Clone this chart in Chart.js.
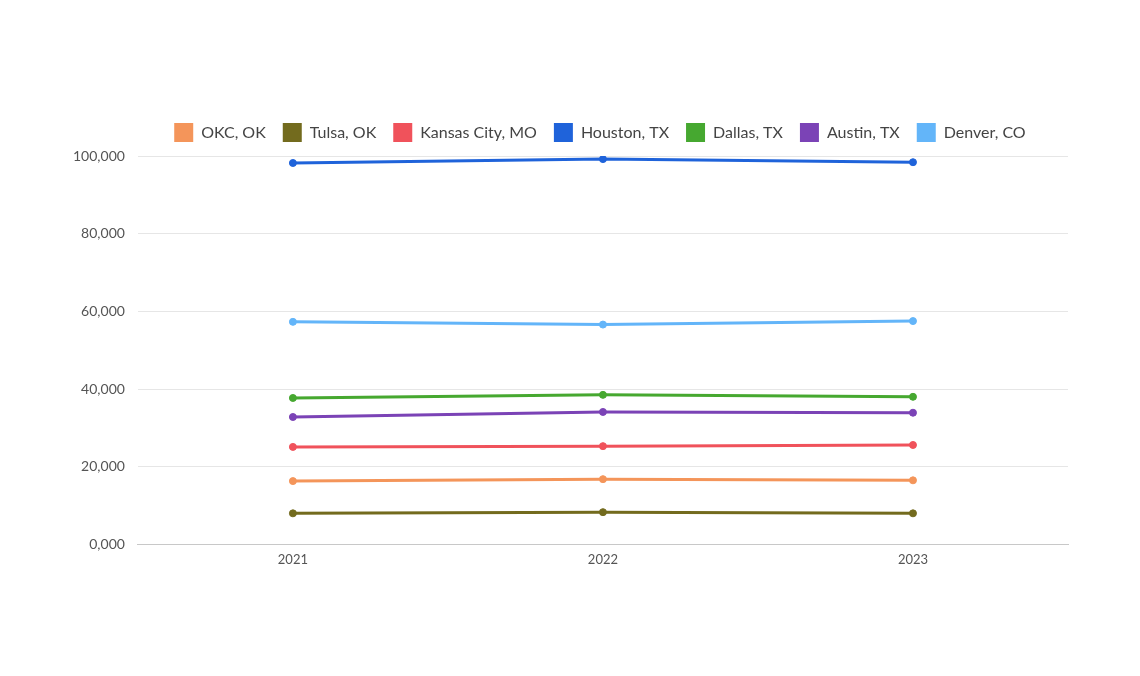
<!DOCTYPE html>
<html>
<head>
<meta charset="utf-8">
<script src="https://cdn.jsdelivr.net/npm/chart.js@4"></script>
<style>
  html, body { margin: 0; padding: 0; background: #fff; }
  #wrap { width: 1140px; height: 676px; position: relative; }
</style>
</head>
<body>
<div id="wrap"><canvas id="cityChart"></canvas></div>
<script>
// categories
const years = ['2021', '2022', '2023'];

// series values
const okc = [16300, 16800, 16500];
const tulsa = [8000, 8300, 8000];
const kansasCity = [25100, 25300, 25600];
const houston = [98200, 99200, 98400];
const dallas = [37700, 38500, 38000];
const austin = [32800, 34100, 33900];
const denver = [57300, 56600, 57500];

const seriesNames = ['OKC, OK', 'Tulsa, OK', 'Kansas City, MO', 'Houston, TX', 'Dallas, TX', 'Austin, TX', 'Denver, CO'];
const seriesValues = [okc, tulsa, kansasCity, houston, dallas, austin, denver];
const seriesColors = ['#f4955a', '#736b1e', '#f0525b', '#1f63da', '#46a830', '#7b43b6', '#63b5f9'];

// y ticks
const yTicks = [0, 20000, 40000, 60000, 80000, 100000];

function fmtTick(v) {
    // thousands part, comma, always three digits after
    const k = Math.floor(v / 1000);
    const rest = String(v % 1000).padStart(3, '0');
    return k + ',' + rest;
}

// centre the legend over the plot area instead of the whole box,
// and leave a little more room under it
const legendTweak = {
    id: 'legendTweak',
    beforeInit(chart) {
        const lg = chart.legend;
        if (!lg) return;
        const origFit = lg.fit.bind(lg);
        lg.fit = function () {
            origFit();
            this.height += 4;
        };
    },
    afterLayout(chart) {
        const lg = chart.legend;
        const area = chart.chartArea;
        if (!lg || !area) return;
        const shift = (area.left + area.right) / 2 - 3 - (lg.left + lg.right) / 2;
        lg.left += shift;
        lg.right += shift;
    }
};

document.addEventListener('DOMContentLoaded', () => {
    const ctx = document.getElementById('cityChart').getContext('2d');

    const datasets = seriesNames.map((name, i) => ({
        label: name,
        data: seriesValues[i],
        borderColor: seriesColors[i],
        backgroundColor: seriesColors[i],
        borderWidth: 3,
        pointRadius: 3.5,
        pointBorderWidth: 1,
        pointHoverRadius: 5,
        tension: 0,
        fill: false
    }));

    new Chart(ctx, {
        type: 'line',
        data: { labels: years, datasets: datasets },
        plugins: [legendTweak],
        options: {
            responsive: true,
            maintainAspectRatio: false,
            animation: false,
            layout: {
                padding: { top: 106, bottom: 100, left: 60, right: 72 }
            },
            scales: {
                x: {
                    offset: true,
                    grid: { display: false, drawTicks: false },
                    border: { display: true, color: '#c8c8c8', width: 1 },
                    ticks: {
                        color: '#555',
                        padding: 8,
                        font: { family: 'Lato', size: 13 }
                    }
                },
                y: {
                    min: 0,
                    max: 100000,
                    afterBuildTicks: axis => {
                        axis.ticks = yTicks.map(v => ({ value: v }));
                    },
                    grid: { color: '#e6e6e6', drawTicks: false },
                    border: { display: false },
                    ticks: {
                        color: '#555',
                        padding: 13,
                        font: { family: 'Lato', size: 14 },
                        callback: v => fmtTick(v)
                    }
                }
            },
            plugins: {
                legend: {
                    position: 'top',
                    labels: {
                        boxWidth: 19,
                        boxHeight: 19,
                        padding: 17,
                        color: '#444',
                        font: { family: 'Lato', size: 16 },
                        generateLabels: chart =>
                            Chart.defaults.plugins.legend.labels.generateLabels(chart)
                                .map(l => Object.assign(l, { lineWidth: 0 }))
                    }
                },
                tooltip: { enabled: true }
            }
        }
    });
});
</script>
</body>
</html>
